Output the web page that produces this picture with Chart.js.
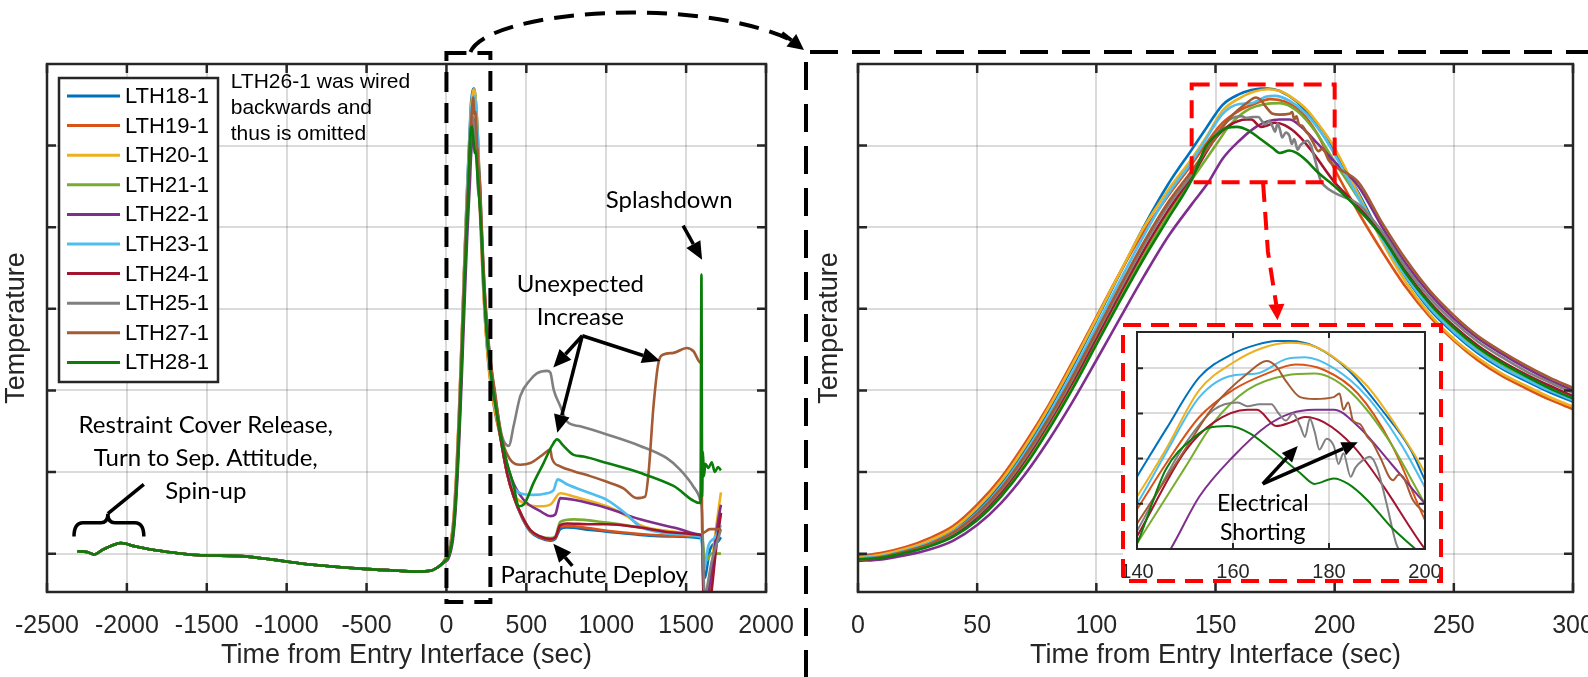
<!DOCTYPE html>
<html>
<head>
<meta charset="utf-8">
<title>Thermocouple temperatures during entry</title>
<script src="https://cdn.jsdelivr.net/npm/chart.js@4.4.1/dist/chart.umd.min.js"></script>
<style>
  body { margin: 0; background: #fff; }
  #page { position: relative; width: 1588px; height: 677px; overflow: hidden; background: #fff; }
  #page canvas { position: absolute; left: 0; top: 0; }
</style>
</head>
<body>
<div id="page">
  <canvas id="fullFlight" width="1588" height="677"></canvas>
  <canvas id="entryPulse" width="1588" height="677"></canvas>
  <canvas id="peakInset" width="1588" height="677"></canvas>
</div>
<script>
// sensors shown (LTH26-1 left out, see note on the plot)
const sensors = ['LTH18-1', 'LTH19-1', 'LTH20-1', 'LTH21-1', 'LTH22-1',
                 'LTH23-1', 'LTH24-1', 'LTH25-1', 'LTH27-1', 'LTH28-1'];
const lineColors = ['#0072BD', '#D95319', '#EDB120', '#77AC30', '#7E2F8E',
                    '#4DBEEE', '#A2142F', '#808080', '#A45A32', '#0A7D0A'];

// tick values (temperature axis is unlabeled)
const flightTicks = [-2500, -2000, -1500, -1000, -500, 0, 500, 1000, 1500, 2000];
const pulseTicks = [0, 50, 100, 150, 200, 250, 300];
const insetTicks = [140, 160, 180, 200];
const tempTicks = [0, 1, 2, 3, 4, 5];
const insetTempTicks = [4.8, 5.05, 5.3, 5.55];

// before entry interface all traces sit on top of each other
const preEntry = [[-2310, 0.03], [-2250, 0.02], [-2206, -0.01], [-2150, 0.05], [-2080, 0.11],
  [-2037, 0.13], [-1950, 0.09], [-1850, 0.05], [-1700, 0.01], [-1537, -0.02], [-1287, -0.03],
  [-1100, -0.07], [-912, -0.12], [-700, -0.16], [-494, -0.19], [-300, -0.21], [-181, -0.22],
  [-100, -0.21], [-56, -0.17], [-25, -0.12]];

// entry heat pulse, 0-300 s  [time, temperature in gridline units]
const pulse18 = [[0,-0.05],[10,-0.02],[20,0.05],[30,0.15],[40,0.29],[50,0.53],[60,0.86],[70,1.28],[80,1.76],[90,2.29],[100,2.86],[110,3.44],[120,4.01],[130,4.52],[140,4.95],[146,5.21],[153,5.50],[160,5.63],[165,5.68],[169,5.70],[172,5.70],[177,5.67],[184,5.54],[191,5.32],[197,5.10],[200,4.93],[210,4.42],[220,3.86],[230,3.38],[240,2.99],[250,2.70],[260,2.46],[270,2.27],[280,2.12],[290,1.98],[300,1.86]];
const pulse19 = [[0,-0.03],[10,0.01],[20,0.08],[30,0.19],[40,0.34],[50,0.60],[60,0.93],[70,1.35],[80,1.82],[90,2.35],[100,2.90],[110,3.45],[120,3.95],[130,4.38],[140,4.77],[146,5.02],[153,5.28],[160,5.43],[167,5.52],[173,5.57],[179,5.54],[186,5.41],[193,5.13],[200,4.71],[210,4.18],[220,3.70],[230,3.26],[240,2.90],[250,2.61],[260,2.37],[270,2.18],[280,2.03],[290,1.89],[300,1.77]];
const pulse20 = [[0,-0.05],[10,-0.01],[20,0.06],[30,0.16],[40,0.31],[50,0.56],[60,0.89],[70,1.31],[80,1.79],[90,2.32],[100,2.88],[110,3.45],[120,4.00],[130,4.45],[140,4.84],[146,5.10],[153,5.43],[160,5.58],[166,5.66],[172,5.69],[177,5.67],[181,5.61],[188,5.45],[195,5.19],[200,4.97],[210,4.40],[220,3.82],[230,3.32],[240,2.93],[250,2.63],[260,2.40],[270,2.21],[280,2.06],[290,1.92],[300,1.80]];
const pulse21 = [[0,-0.06],[10,-0.04],[20,0.02],[30,0.10],[40,0.22],[50,0.43],[60,0.72],[70,1.10],[80,1.55],[90,2.05],[100,2.59],[110,3.13],[120,3.66],[130,4.15],[140,4.58],[150,5.00],[156,5.25],[163,5.43],[171,5.51],[177,5.52],[184,5.43],[192,5.17],[200,4.80],[210,4.35],[220,3.86],[230,3.41],[240,3.04],[250,2.75],[260,2.51],[270,2.32],[280,2.16],[290,2.02],[300,1.89]];
const pulse22 = [[0,-0.09],[10,-0.07],[20,-0.02],[30,0.05],[40,0.16],[50,0.35],[60,0.62],[70,0.97],[80,1.39],[90,1.86],[100,2.37],[110,2.89],[120,3.40],[130,3.88],[140,4.28],[147,4.55],[153,4.84],[160,5.06],[167,5.23],[172,5.30],[177,5.32],[181,5.32],[186,5.23],[193,5.02],[200,4.80],[210,4.50],[220,4.00],[230,3.55],[240,3.18],[250,2.88],[260,2.64],[270,2.45],[280,2.28],[290,2.13],[300,2.00]];
const pulse23 = [[0,-0.06],[10,-0.03],[20,0.04],[30,0.13],[40,0.27],[50,0.50],[60,0.82],[70,1.23],[80,1.70],[90,2.22],[100,2.78],[110,3.35],[120,3.90],[130,4.40],[140,4.80],[146,5.08],[153,5.39],[160,5.51],[165,5.52],[171,5.60],[175,5.61],[181,5.55],[188,5.39],[195,5.13],[200,4.89],[210,4.36],[220,3.85],[230,3.39],[240,3.01],[250,2.72],[260,2.48],[270,2.29],[280,2.14],[290,2.00],[300,1.88]];
const pulse24 = [[0,-0.08],[10,-0.05],[20,0.01],[30,0.10],[40,0.23],[50,0.45],[60,0.75],[70,1.14],[80,1.60],[90,2.10],[100,2.64],[110,3.19],[120,3.72],[130,4.20],[140,4.62],[150,5.09],[156,5.25],[163,5.32],[165,5.32],[169,5.23],[172,5.25],[175,5.28],[179,5.25],[185,5.12],[191,4.91],[200,4.55],[210,4.25],[220,3.90],[230,3.45],[240,3.08],[250,2.79],[260,2.55],[270,2.36],[280,2.20],[290,2.06],[300,1.93]];
const pulse25 = [[0,-0.07],[10,-0.04],[20,0.02],[30,0.11],[40,0.25],[50,0.47],[60,0.78],[70,1.17],[80,1.63],[90,2.14],[100,2.69],[110,3.24],[120,3.78],[130,4.26],[140,4.65],[146,4.95],[150,5.13],[156,5.32],[161,5.36],[163,5.34],[165.5,5.35],[168,5.35],[169.5,5.30],[171,5.26],[172.5,5.30],[174,5.23],[175,5.17],[176,5.27],[177,5.20],[178,5.10],[179.5,5.16],[181,5.12],[182,5.02],[183,5.08],[184.5,4.95],[185.5,5.00],[187,5.04],[188.5,5.06],[190,5.00],[192,4.80],[194,4.58],[196,4.50],[200,4.42],[210,4.28],[220,3.94],[230,3.50],[240,3.13],[250,2.84],[260,2.60],[270,2.41],[280,2.24],[290,2.10],[300,1.97]];
const pulse27 = [[0,-0.08],[10,-0.04],[20,0.03],[30,0.12],[40,0.26],[50,0.49],[60,0.80],[70,1.20],[80,1.66],[90,2.17],[100,2.72],[110,3.28],[120,3.82],[130,4.30],[140,4.69],[150,5.10],[156,5.34],[163,5.52],[167,5.59],[169,5.56],[171,5.48],[174,5.39],[177,5.38],[181,5.39],[182.2,5.41],[183,5.32],[184,5.36],[185,5.26],[186.5,5.24],[188,5.17],[189,5.14],[190.6,5.06],[193.3,4.93],[194.5,4.96],[195.4,4.95],[197.5,4.82],[200,4.75],[210,4.55],[220,4.05],[230,3.60],[240,3.22],[250,2.92],[260,2.67],[270,2.48],[280,2.31],[290,2.16],[300,2.03]];
const pulse28 = [[0,-0.07],[10,-0.05],[20,0.01],[30,0.09],[40,0.21],[50,0.41],[60,0.70],[70,1.07],[80,1.52],[90,2.02],[100,2.56],[110,3.10],[120,3.62],[130,4.10],[140,4.58],[146,4.99],[152,5.17],[155,5.22],[159,5.23],[163.5,5.19],[168,5.10],[174,4.97],[177,4.91],[181,4.94],[184,4.91],[188,4.82],[193,4.67],[198,4.55],[200,4.50],[210,4.22],[220,3.88],[230,3.43],[240,3.06],[250,2.77],[260,2.53],[270,2.34],[280,2.18],[290,2.03],[300,1.90]];

// parachute descent and splashdown, after 300 s
const descent18 = [[340,1.40],[379,0.99],[421,0.70],[473,0.44],[525,0.27],[587,0.19],[650,0.16],[681,0.18],[712,0.30],[754,0.32],[900,0.29],[1004,0.27],[1212,0.23],[1421,0.21],[1590,0.19],[1600,0.15],[1615,-0.3],[1650,0.05],[1700,0.15],[1718,0.2]];
const descent19 = [[340,1.40],[379,0.99],[421,0.70],[473,0.45],[525,0.28],[587,0.20],[650,0.17],[681,0.19],[712,0.33],[754,0.34],[900,0.31],[1004,0.28],[1212,0.24],[1421,0.22],[1590,0.21],[1600,0.2],[1612,-0.7],[1660,-0.3],[1700,0.3],[1718,0.5]];
const descent20 = [[340,1.45],[400,0.83],[483,0.62],[587,0.58],[650,0.60],[712,0.74],[796,0.70],[1004,0.58],[1129,0.46],[1212,0.35],[1421,0.27],[1590,0.22],[1600,0.2],[1610,-0.6],[1650,-0.3],[1680,0.2],[1700,0.5],[1718,0.75]];
const descent21 = [[340,1.40],[379,0.99],[421,0.70],[473,0.46],[525,0.29],[587,0.21],[650,0.19],[681,0.21],[712,0.39],[796,0.42],[1004,0.38],[1212,0.32],[1421,0.25],[1590,0.21],[1600,0.2],[1620,-0.1],[1660,0.0],[1718,0.0]];
const descent22 = [[348,1.36],[410,0.91],[483,0.66],[587,0.52],[650,0.46],[681,0.48],[712,0.68],[796,0.66],[1004,0.56],[1212,0.42],[1421,0.32],[1590,0.23],[1600,0.2],[1612,-0.7],[1660,-0.2],[1700,0.4],[1718,0.6]];
const descent23 = [[348,1.40],[400,0.91],[462,0.74],[546,0.72],[629,0.74],[671,0.78],[696,0.91],[754,0.85],[900,0.74],[1004,0.66],[1129,0.48],[1212,0.33],[1317,0.27],[1421,0.24],[1590,0.21],[1600,0.1],[1610,-0.2],[1640,0.1],[1680,0.2],[1718,0.35]];
const descent24 = [[340,1.40],[379,0.99],[421,0.70],[473,0.46],[525,0.29],[587,0.21],[650,0.18],[681,0.20],[712,0.35],[754,0.37],[900,0.36],[1004,0.36],[1212,0.32],[1421,0.26],[1590,0.23],[1600,0.2],[1615,-0.8],[1650,-0.6],[1690,0.1],[1718,0.5]];
const descent25 = [[348,1.44],[390,1.32],[421,1.57],[462,1.93],[525,2.13],[566,2.21],[629,2.24],[650,2.22],[671,2.01],[712,1.81],[754,1.62],[837,1.56],[1004,1.46],[1212,1.32],[1379,1.17],[1462,1.03],[1546,0.82],[1590,0.64],[1600,0.5],[1615,-0.5],[1660,-0.1],[1718,0.3]];
const descent27 = [[348,1.40],[400,1.15],[462,1.09],[525,1.11],[587,1.19],[640,1.27],[650,1.28],[660,1.17],[712,1.07],[796,1.01],[900,0.95],[1004,0.88],[1108,0.80],[1191,0.68],[1244,0.70],[1265,0.99],[1296,1.81],[1327,2.34],[1358,2.44],[1421,2.46],[1504,2.52],[1546,2.48],[1590,2.34],[1597,2.30],[1600,0.25],[1650,0.30],[1718,0.30]];
const descent28 = [[340,1.45],[379,1.11],[421,0.83],[452,0.58],[483,0.60],[546,0.87],[608,1.11],[660,1.32],[692,1.40],[733,1.32],[796,1.21],[858,1.19],[1004,1.11],[1212,0.99],[1421,0.83],[1590,0.62],[1596,3.42],[1600,0.70],[1605,1.25],[1612,0.95],[1620,1.10],[1640,1.05],[1660,1.12],[1680,1.00],[1700,1.06],[1718,1.02]];

const pulses = [pulse18, pulse19, pulse20, pulse21, pulse22, pulse23, pulse24, pulse25, pulse27, pulse28];
const descents = [descent18, descent19, descent20, descent21, descent22, descent23, descent24, descent25, descent27, descent28];

const INK = '#262626';
const GRID = 'rgba(0,0,0,0.14)';
const SANS = '"Liberation Sans", Arial, sans-serif';
const NOTE = 'Lato, "Open Sans", sans-serif';

const toXY = pts => pts.map(([x, y]) => ({ x, y }));

function lineSets(pick, width) {
  return sensors.map((name, i) => ({
    label: name,
    data: toXY(pick(i)),
    borderColor: lineColors[i],
    backgroundColor: lineColors[i],
    borderWidth: width,
    pointRadius: 0,
    cubicInterpolationMode: 'monotone',
    order: sensors.length - i   // later sensors drawn on top, like MATLAB
  }));
}

function axes(cfg) {
  return {
    responsive: false,
    animation: false,
    events: [],
    layout: { padding: cfg.padding },
    plugins: {
      legend: { display: false },
      tooltip: { enabled: false },
      frame: { width: cfg.frameWidth, tick: cfg.tickLen }
    },
    scales: {
      x: {
        type: 'linear', min: cfg.xMin, max: cfg.xMax,
        afterBuildTicks: s => { s.ticks = cfg.xTicks.map(v => ({ value: v })); },
        afterFit: s => { s.height = cfg.xHeight; s.paddingLeft = 0; s.paddingRight = 0; },
        grid: { color: GRID, lineWidth: cfg.gridWidth, drawTicks: false },
        border: { display: false },
        ticks: { color: INK, font: { family: SANS, size: cfg.tickSize }, padding: cfg.tickPad,
                 maxRotation: 0, autoSkip: false, callback: v => String(v) },
        title: { display: !!cfg.xTitle, text: cfg.xTitle || '', color: INK,
                 font: { family: SANS, size: 27 }, padding: 0 }
      },
      y: {
        type: 'linear', min: cfg.yMin, max: cfg.yMax,
        afterBuildTicks: s => { s.ticks = cfg.yTicks.map(v => ({ value: v })); },
        afterFit: s => { s.width = cfg.yWidth; },
        grid: { color: GRID, lineWidth: cfg.gridWidth, drawTicks: false },
        border: { display: false },
        ticks: { callback: () => '' },
        title: { display: !!cfg.yTitle, text: cfg.yTitle || '', color: INK,
                 font: { family: SANS, size: 27 }, padding: 0 }
      }
    }
  };
}

// MATLAB style box with inward ticks on all four sides
const frame = {
  id: 'frame',
  afterDatasetsDraw(chart, args, opts) {
    const { ctx, chartArea: a, scales: { x, y } } = chart;
    ctx.save();
    ctx.strokeStyle = INK;
    ctx.lineWidth = opts.width;
    ctx.beginPath();
    x.ticks.forEach(t => {
      const p = x.getPixelForValue(t.value);
      ctx.moveTo(p, a.bottom); ctx.lineTo(p, a.bottom - opts.tick);
      ctx.moveTo(p, a.top); ctx.lineTo(p, a.top + opts.tick);
    });
    y.ticks.forEach(t => {
      const p = y.getPixelForValue(t.value);
      ctx.moveTo(a.left, p); ctx.lineTo(a.left + opts.tick, p);
      ctx.moveTo(a.right, p); ctx.lineTo(a.right - opts.tick, p);
    });
    ctx.stroke();
    ctx.strokeRect(a.left, a.top, a.right - a.left, a.bottom - a.top);
    ctx.restore();
  }
};

function arrow(ctx, [x1, y1], [x2, y2], len = 18, half = 8) {
  const a = Math.atan2(y2 - y1, x2 - x1);
  const bx = x2 - len * Math.cos(a), by = y2 - len * Math.sin(a);
  ctx.beginPath(); ctx.moveTo(x1, y1); ctx.lineTo(bx, by); ctx.stroke();
  ctx.beginPath(); ctx.moveTo(x2, y2);
  ctx.lineTo(bx + half * Math.sin(a), by - half * Math.cos(a));
  ctx.lineTo(bx - half * Math.sin(a), by + half * Math.cos(a));
  ctx.closePath(); ctx.fill();
}

function lines(ctx, texts, x, y0, step) {
  texts.forEach((s, i) => ctx.fillText(s, x, y0 + i * step));
}

// legend, callouts and the dashed zoom connector on the full-flight plot
const flightNotes = {
  id: 'flightNotes',
  afterDraw(chart) {
    const { ctx, chartArea: a, scales: { x, y } } = chart;
    const at = (t, u) => [x.getPixelForValue(t), y.getPixelForValue(u)];
    ctx.save();

    // legend box
    const lx = a.left + 12, ly = a.top + 14;
    ctx.fillStyle = '#fff';
    ctx.fillRect(lx, ly, 159, 304);
    ctx.strokeStyle = INK; ctx.lineWidth = 2.5;
    ctx.strokeRect(lx, ly, 159, 304);
    ctx.font = '22px ' + SANS; ctx.textBaseline = 'middle'; ctx.textAlign = 'left';
    chart.data.datasets.forEach((ds, i) => {
      const ry = ly + 18 + i * 29.6;
      ctx.strokeStyle = ds.borderColor; ctx.lineWidth = 3;
      ctx.beginPath(); ctx.moveTo(lx + 8, ry); ctx.lineTo(lx + 61, ry); ctx.stroke();
      ctx.fillStyle = '#000';
      ctx.fillText(ds.label, lx + 66, ry + 1);
    });

    // omitted sensor note
    ctx.font = '21px ' + SANS;
    const [nx, ny] = at(-1350, 5.78);
    lines(ctx, ['LTH26-1 was wired', 'backwards and', 'thus is omitted'], nx, ny, 26);

    // event callouts
    ctx.fillStyle = '#000'; ctx.strokeStyle = '#000'; ctx.lineWidth = 3.5;
    ctx.font = '24px ' + NOTE; ctx.textAlign = 'center';
    let p = at(-1506, 1.57);
    lines(ctx, ['Restraint Cover Release,', 'Turn to Sep. Attitude,', 'Spin-up'], p[0], p[1], 33);

    const [bl, bb] = at(-2331, 0.21), [br] = at(-1894, 0.21);
    const [bc, cusp] = at(-2119, 0.49), flat = y.getPixelForValue(0.38);
    ctx.beginPath();
    ctx.moveTo(bl, bb);
    ctx.quadraticCurveTo(bl, flat, bl + 9, flat);
    ctx.lineTo(bc - 7, flat);
    ctx.quadraticCurveTo(bc, flat, bc, cusp);
    ctx.quadraticCurveTo(bc, flat, bc + 7, flat);
    ctx.lineTo(br - 9, flat);
    ctx.quadraticCurveTo(br, flat, br, bb);
    ctx.stroke();
    ctx.beginPath(); ctx.moveTo(bc, cusp); ctx.lineTo(...at(-1894, 0.85)); ctx.stroke();

    p = at(1394, 4.33);
    ctx.fillText('Splashdown', p[0], p[1]);
    arrow(ctx, at(1481, 4.02), at(1600, 3.60));

    p = at(838, 3.30);
    lines(ctx, ['Unexpected', 'Increase'], p[0], p[1], 33);
    const hub = at(850, 2.67);
    arrow(ctx, hub, at(669, 2.28));
    arrow(ctx, hub, at(694, 1.48));
    arrow(ctx, hub, at(1338, 2.36));

    p = at(925, -0.26);
    ctx.fillText('Parachute Deploy', p[0], p[1]);
    arrow(ctx, at(788, -0.15), at(669, 0.12));

    // dashed box round the entry pulse
    ctx.setLineDash([20, 11]); ctx.lineWidth = 4;
    const x0 = x.getPixelForValue(0), x1 = x.getPixelForValue(275);
    ctx.strokeRect(x0, a.top - 11, x1 - x0, a.bottom - a.top + 21);

    // curved connector to the zoomed plot
    const sx = x.getPixelForValue(150), sy = a.top - 12;
    ctx.beginPath();
    ctx.moveTo(sx, sy);
    ctx.bezierCurveTo(sx + 18, sy - 42, 700, -6, 795, 42);
    ctx.stroke();
    ctx.setLineDash([]);
    arrow(ctx, [782, 33], [804, 50], 16, 8);

    // dashed frame round the zoomed plot
    ctx.setLineDash([28, 14]);
    ctx.beginPath();
    ctx.moveTo(810, 52); ctx.lineTo(1588, 52);
    ctx.moveTo(806, 62); ctx.lineTo(806, 677);
    ctx.stroke();
    ctx.restore();
  }
};

// red zoom box and pointer on the entry pulse plot
const pulseNotes = {
  id: 'pulseNotes',
  afterDatasetsDraw(chart) {
    const { ctx, scales: { x, y } } = chart;
    const at = (t, u) => [x.getPixelForValue(t), y.getPixelForValue(u)];
    ctx.save();
    ctx.strokeStyle = '#ff0000'; ctx.fillStyle = '#ff0000';
    ctx.lineWidth = 4; ctx.setLineDash([18, 10]);
    const [l, t] = at(140, 5.75), [r, b] = at(200, 4.55);
    ctx.strokeRect(l, t, r - l, b - t);
    ctx.beginPath();
    ctx.moveTo(...at(170, 4.53));
    ctx.lineTo(...at(172, 3.70));
    ctx.lineTo(...at(175.5, 3.05));
    ctx.stroke();
    ctx.setLineDash([]);
    arrow(ctx, at(175.6, 3.05), at(176, 2.86), 16, 8);
    ctx.restore();
  }
};

// white backing, red frame and callout for the inset
const insetNotes = {
  id: 'insetNotes',
  beforeDraw(chart) {
    const { ctx, chartArea: a } = chart;
    ctx.save();
    ctx.fillStyle = '#fff';
    ctx.fillRect(a.left - 14, a.top - 7, a.right - a.left + 30, a.bottom - a.top + 39);
    ctx.restore();
  },
  afterDraw(chart) {
    const { ctx, chartArea: a, scales: { x, y } } = chart;
    const at = (t, u) => [x.getPixelForValue(t), y.getPixelForValue(u)];
    ctx.save();
    ctx.strokeStyle = '#ff0000'; ctx.lineWidth = 4; ctx.setLineDash([18, 10]);
    ctx.strokeRect(a.left - 14, a.top - 7, a.right - a.left + 30, a.bottom - a.top + 39);
    ctx.setLineDash([]);
    ctx.fillStyle = '#000'; ctx.strokeStyle = '#000'; ctx.lineWidth = 3.5;
    ctx.font = '23px ' + NOTE; ctx.textAlign = 'center'; ctx.textBaseline = 'middle';
    const p = at(166.2, 4.80);
    lines(ctx, ['Electrical', 'Shorting'], p[0], p[1], 29);
    const hub = at(166.2, 4.91);
    arrow(ctx, hub, at(173.5, 5.12), 16, 7);
    arrow(ctx, hub, at(186, 5.14), 16, 7);
    ctx.restore();
  }
};

new Chart(document.getElementById('fullFlight'), {
  type: 'line',
  data: { datasets: lineSets(i => [...preEntry, ...pulses[i], ...descents[i]], 2.6) },
  options: axes({
    padding: { left: 0, top: 64, right: 822, bottom: 5 },
    xMin: -2500, xMax: 2000, xTicks: flightTicks,
    yMin: -0.47, yMax: 6.0, yTicks: tempTicks,
    yWidth: 47, xHeight: 80, tickSize: 25, tickPad: 19,
    gridWidth: 2, frameWidth: 2.5, tickLen: 9,
    xTitle: 'Time from Entry Interface (sec)', yTitle: 'Temperature'
  }),
  plugins: [frame, flightNotes]
});

new Chart(document.getElementById('entryPulse'), {
  type: 'line',
  data: { datasets: lineSets(i => pulses[i], 2.6) },
  options: axes({
    padding: { left: 813, top: 64, right: 15, bottom: 5 },
    xMin: 0, xMax: 300, xTicks: pulseTicks,
    yMin: -0.47, yMax: 6.0, yTicks: tempTicks,
    yWidth: 45, xHeight: 80, tickSize: 25, tickPad: 19,
    gridWidth: 2, frameWidth: 2.5, tickLen: 9,
    xTitle: 'Time from Entry Interface (sec)', yTitle: 'Temperature'
  }),
  plugins: [frame, pulseNotes]
});

new Chart(document.getElementById('peakInset'), {
  type: 'line',
  data: { datasets: lineSets(i => pulses[i].filter(([t]) => t >= 130 && t <= 210), 2) },
  options: axes({
    padding: { left: 1127, top: 332, right: 163, bottom: 88 },
    xMin: 140, xMax: 200, xTicks: insetTicks,
    yMin: 4.55, yMax: 5.75, yTicks: insetTempTicks,
    yWidth: 10, xHeight: 40, tickSize: 20, tickPad: 11,
    gridWidth: 2, frameWidth: 2, tickLen: 6
  }),
  plugins: [insetNotes, frame]
});
</script>
</body>
</html>
